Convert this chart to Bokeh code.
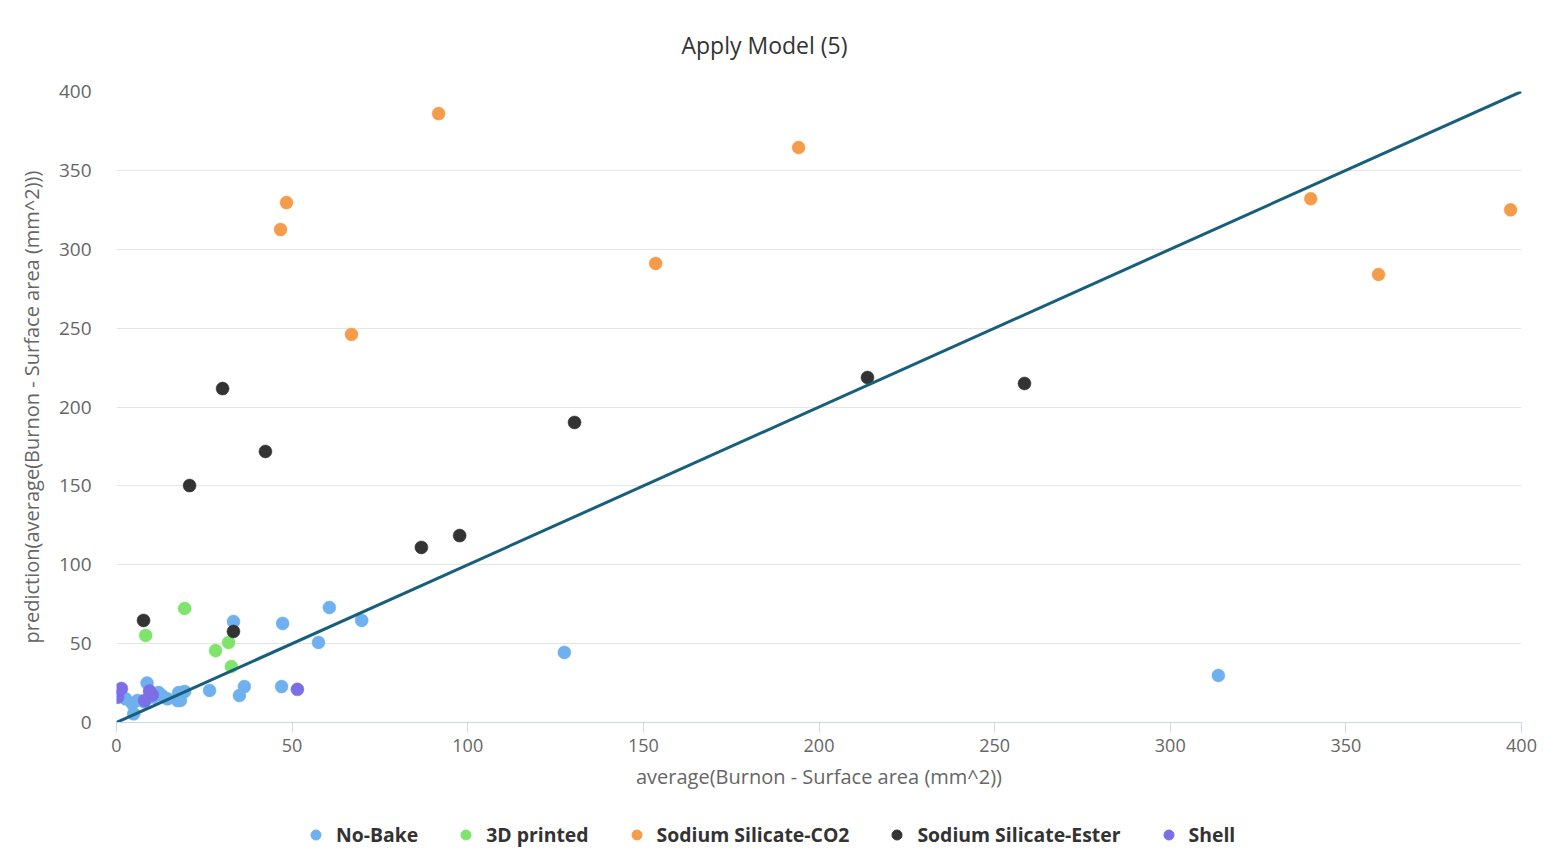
from bokeh.plotting import figure
from bokeh.layouts import column
from bokeh.models import Range1d, Legend, LegendItem, FixedTicker, ColumnDataSource
from bokeh.embed import file_html
from bokeh.resources import INLINE

series_names = ["No-Bake", "3D printed", "Sodium Silicate-CO2", "Sodium Silicate-Ester", "Shell"]
series_colors = ["#6fb0ee", "#7ee46b", "#f59c4a", "#333333", "#7b6ee6"]

nobake_x = [313.7, 127.5, 60.6, 69.8, 57.5, 47.3, 33.3, 47.0, 36.4, 35.0, 26.5, 19.4, 17.4,
            8.7, 2.6, 4.5, 4.9, 12.0, 13.0, 17.7, 18.2, 6.0, 8.0, 10.5, 14.5]
nobake_y = [29.8, 44.4, 72.9, 64.7, 50.7, 62.8, 64.0, 22.8, 22.8, 17.1, 20.3, 19.7, 13.9,
            25.0, 15.0, 12.0, 5.5, 19.0, 17.0, 19.0, 14.0, 14.0, 13.0, 16.0, 15.0]

printed_x = [19.4, 8.3, 28.2, 31.9, 32.7]
printed_y = [72.3, 55.2, 45.6, 50.7, 35.5]

co2_x = [91.7, 194.2, 48.4, 46.7, 153.5, 66.9, 340.0, 359.3, 396.9]
co2_y = [386.0, 364.5, 329.6, 312.5, 291.0, 246.0, 332.0, 284.0, 325.0]

ester_x = [30.2, 42.4, 20.8, 130.4, 213.8, 258.5, 86.8, 97.7, 7.7, 33.3]
ester_y = [211.7, 171.8, 150.2, 190.2, 218.7, 214.9, 111.0, 118.5, 64.7, 57.7]

shell_x = [51.5, 0.3, 1.4, 9.4, 8.0, 10.2]
shell_y = [21.0, 16.0, 21.5, 20.0, 14.0, 17.5]

fit_x = [0, 400]
fit_y = [0, 400]

x_ticks = [0, 50, 100, 150, 200, 250, 300, 350, 400]
y_ticks = [0, 50, 100, 150, 200, 250, 300, 350, 400]

FONT = "Open Sans"

p = figure(frame_width=1405, frame_height=631, output_backend="svg", toolbar_location=None,
           x_range=Range1d(0, 400), y_range=Range1d(0, 400),
           min_border_left=116, min_border_right=28, min_border_top=91, min_border_bottom=85)

p.title.text = "Apply Model (5)"
p.title.align = "left"
p.title.offset = 565
p.title.vertical_align = "top"
p.title.standoff = 57
p.title.text_font = FONT
p.title.text_font_size = "23px"
p.title.text_font_style = "normal"
p.title.text_color = "#333333"

p.outline_line_color = None
p.background_fill_color = "white"
p.border_fill_color = "white"

# grids
p.xgrid.grid_line_color = None
p.ygrid.grid_line_color = "#e6e6e6"
p.ygrid.grid_line_width = 1
p.ygrid.ticker = FixedTicker(ticks=y_ticks)

# x axis
p.xaxis.ticker = FixedTicker(ticks=x_ticks)
p.xaxis.axis_line_color = "#ccd6eb"
p.xaxis.major_tick_line_color = "#ccd6eb"
p.xaxis.major_tick_in = 0
p.xaxis.major_tick_out = 10
p.xaxis.minor_tick_line_color = None
p.xaxis.major_label_text_font = FONT
p.xaxis.major_label_text_font_size = "18px"
p.xaxis.major_label_text_color = "#666666"
p.xaxis.major_label_standoff = 6
p.xaxis.axis_label = "average(Burnon - Surface area (mm^2))"
p.xaxis.axis_label_text_font = FONT
p.xaxis.axis_label_text_font_size = "20px"
p.xaxis.axis_label_text_font_style = "normal"
p.xaxis.axis_label_text_color = "#666666"
p.xaxis.axis_label_standoff = 8

# y axis
p.yaxis.ticker = FixedTicker(ticks=y_ticks)
p.yaxis.axis_line_color = None
p.yaxis.major_tick_line_color = None
p.yaxis.minor_tick_line_color = None
p.yaxis.major_label_text_font = FONT
p.yaxis.major_label_text_font_size = "19px"
p.yaxis.major_label_text_color = "#666666"
p.yaxis.major_label_standoff = 19
p.yaxis.axis_label = "prediction(average(Burnon - Surface area (mm^2)))"
p.yaxis.axis_label_text_font = FONT
p.yaxis.axis_label_text_font_size = "20px"
p.yaxis.axis_label_text_font_style = "normal"
p.yaxis.axis_label_text_color = "#666666"
p.yaxis.axis_label_standoff = 11

xs = [nobake_x, printed_x, co2_x, ester_x, shell_x]
ys = [nobake_y, printed_y, co2_y, ester_y, shell_y]

sources = []
for name, color, sx, sy in zip(series_names, series_colors, xs, ys):
    src = ColumnDataSource(dict(x=sx, y=sy))
    sources.append(src)
    p.scatter("x", "y", source=src, size=13, fill_color=color, line_color=color,
              line_width=0.5)

p.line(fit_x, fit_y, line_color="#175f7b", line_width=3)

# legend strip below the chart (its ranges lie outside the data, so only the legend shows)
leg = figure(width=1549, height=851 - 807, output_backend="svg", toolbar_location=None,
             x_axis_type=None, y_axis_type=None,
             x_range=Range1d(-2000, -1999), y_range=Range1d(-2000, -1999),
             min_border_left=0, min_border_right=0, min_border_top=0, min_border_bottom=0)
leg.outline_line_color = None
leg.background_fill_color = "white"
leg.border_fill_color = "white"

items = []
for name, color, src in zip(series_names, series_colors, sources):
    r = leg.scatter("x", "y", source=src, size=13, fill_color=color, line_color=color)
    items.append(LegendItem(label=name, renderers=[r]))

legend = Legend(items=items, orientation="horizontal", location=(187, 3))
legend.label_text_font = FONT
legend.label_text_font_size = "19.4px"
legend.label_text_font_style = "bold"
legend.label_text_color = "#333333"
legend.border_line_color = None
legend.background_fill_alpha = 0
legend.spacing = 35
legend.label_standoff = 8
legend.glyph_width = 25
legend.glyph_height = 25
legend.margin = 0
legend.padding = 0
leg.add_layout(legend, "center")

layout = column(p, leg, spacing=0)

open("out.html", "w").write(file_html(layout, INLINE))
